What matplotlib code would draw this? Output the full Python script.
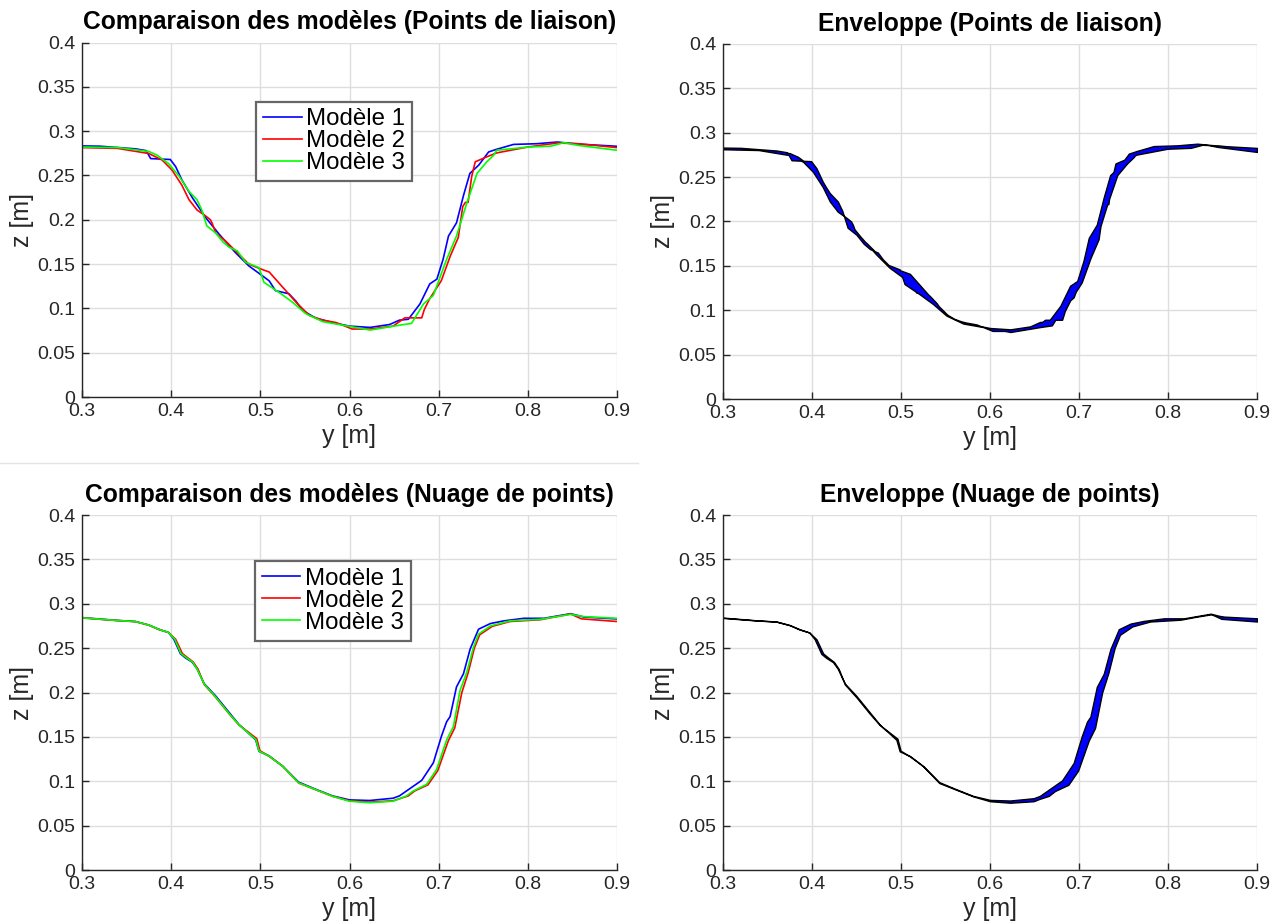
import numpy as np
import matplotlib
matplotlib.use("Agg")
import matplotlib.pyplot as plt
from matplotlib.lines import Line2D

plt.rcParams["font.family"] = ["Liberation Sans", "DejaVu Sans"]

# ---- Profils issus des points de liaison ----
lp_y1 = [0.300, 0.320, 0.340, 0.360, 0.372, 0.377, 0.399, 0.405, 0.412, 0.424, 0.439, 0.454,
         0.472, 0.487, 0.502, 0.510, 0.517, 0.532, 0.540, 0.547, 0.562, 0.585, 0.600, 0.623,
         0.645, 0.656, 0.666, 0.679, 0.690, 0.698, 0.705, 0.711, 0.720, 0.728, 0.735, 0.745,
         0.756, 0.765, 0.784, 0.810, 0.833, 0.844, 0.863, 0.900]
lp_z1 = [0.2833, 0.2830, 0.2815, 0.2800, 0.2780, 0.2690, 0.2680, 0.2600, 0.2450, 0.2245, 0.2020, 0.1835,
         0.1630, 0.1480, 0.1370, 0.1310, 0.1200, 0.1165, 0.1080, 0.0980, 0.0890, 0.0830, 0.0800, 0.0785,
         0.0818, 0.0867, 0.0877, 0.1050, 0.1276, 0.1330, 0.1555, 0.1816, 0.1965, 0.2280, 0.2523, 0.2617,
         0.2765, 0.2795, 0.2850, 0.2858, 0.2877, 0.2866, 0.2850, 0.2829]

lp_y2 = [0.300, 0.340, 0.375, 0.390, 0.401, 0.412, 0.420, 0.429, 0.439, 0.444, 0.446, 0.450,
         0.461, 0.476, 0.487, 0.4985, 0.510, 0.525, 0.540, 0.555, 0.570, 0.585, 0.603, 0.623,
         0.649, 0.662, 0.681, 0.684, 0.690, 0.703, 0.713, 0.722, 0.727, 0.730, 0.733, 0.737,
         0.741, 0.754, 0.765, 0.800, 0.833, 0.856, 0.900]
lp_z2 = [0.2814, 0.2805, 0.2747, 0.2673, 0.2560, 0.2390, 0.2226, 0.2110, 0.2040, 0.2000, 0.1960, 0.1850,
         0.1760, 0.1610, 0.1500, 0.1452, 0.1410, 0.1240, 0.1070, 0.0920, 0.0867, 0.0840, 0.0767, 0.0767,
         0.0800, 0.0893, 0.0893, 0.0990, 0.1110, 0.1313, 0.1590, 0.1800, 0.2150, 0.2196, 0.2196, 0.2486,
         0.2654, 0.2710, 0.2754, 0.2821, 0.2866, 0.2858, 0.2814]

lp_y3 = [0.300, 0.340, 0.375, 0.384, 0.397, 0.409, 0.420, 0.429, 0.434, 0.440, 0.450, 0.458,
         0.465, 0.474, 0.4835, 0.4985, 0.504, 0.521, 0.536, 0.551, 0.570, 0.600, 0.623, 0.656,
         0.6695, 0.683, 0.694, 0.709, 0.720, 0.7316, 0.743, 0.754, 0.7617, 0.765, 0.800, 0.8256,
         0.8406, 0.856, 0.900]
lp_z3 = [0.2820, 0.2815, 0.2770, 0.2730, 0.2635, 0.2490, 0.2320, 0.2225, 0.2120, 0.1930, 0.1850, 0.1750,
         0.1690, 0.1650, 0.1520, 0.1460, 0.1295, 0.1180, 0.1070, 0.0940, 0.0850, 0.0797, 0.0755, 0.0810,
         0.0830, 0.1050, 0.1146, 0.1555, 0.1816, 0.2190, 0.2523, 0.2654, 0.2728, 0.2784, 0.2820, 0.2830,
         0.2870, 0.2840, 0.2784]

# ---- Profils issus du nuage de points ----
np_y1 = [0.300, 0.337, 0.360, 0.375, 0.386, 0.397, 0.403, 0.4105, 0.416, 0.4236, 0.429, 0.437,
         0.450, 0.465, 0.476, 0.4948, 0.4985, 0.510, 0.525, 0.543, 0.562, 0.581, 0.600, 0.6226,
         0.649, 0.656, 0.6677, 0.681, 0.694, 0.703, 0.709, 0.7128, 0.720, 0.7278, 0.7353, 0.7447,
         0.758, 0.773, 0.7955, 0.818, 0.848, 0.863, 0.900]
np_z1 = [0.2844, 0.2814, 0.2800, 0.2760, 0.2713, 0.2676, 0.2600, 0.2435, 0.2390, 0.2342, 0.2267, 0.2100,
         0.1960, 0.1775, 0.1640, 0.1467, 0.1337, 0.1285, 0.1170, 0.0990, 0.0910, 0.0835, 0.0790, 0.0783,
         0.0809, 0.0835, 0.0917, 0.1010, 0.1207, 0.1504, 0.1672, 0.1728, 0.2063, 0.2211, 0.2490, 0.2713,
         0.2777, 0.2807, 0.2836, 0.2836, 0.2888, 0.2850, 0.2829]

np_y2 = [0.300, 0.337, 0.360, 0.375, 0.386, 0.397, 0.405, 0.4125, 0.418, 0.4246, 0.430, 0.437,
         0.450, 0.465, 0.476, 0.4960, 0.4995, 0.510, 0.525, 0.543, 0.562, 0.581, 0.600, 0.6226,
         0.649, 0.666, 0.673, 0.688, 0.699, 0.711, 0.718, 0.726, 0.733, 0.740, 0.746, 0.760,
         0.780, 0.814, 0.848, 0.860, 0.900]
np_z2 = [0.2840, 0.2812, 0.2798, 0.2758, 0.2710, 0.2676, 0.2600, 0.2440, 0.2395, 0.2345, 0.2265, 0.2090,
         0.1945, 0.1760, 0.1635, 0.1480, 0.1345, 0.1280, 0.1170, 0.0980, 0.0905, 0.0830, 0.0780, 0.0765,
         0.0780, 0.0835, 0.0890, 0.0960, 0.1120, 0.1460, 0.1600, 0.2000, 0.2220, 0.2500, 0.2650, 0.2745,
         0.2800, 0.2820, 0.2885, 0.2830, 0.2800]

np_y3 = [0.300, 0.337, 0.360, 0.375, 0.386, 0.397, 0.404, 0.4110, 0.417, 0.4240, 0.429, 0.437,
         0.450, 0.465, 0.476, 0.4950, 0.4985, 0.510, 0.525, 0.543, 0.562, 0.581, 0.600, 0.6226,
         0.649, 0.664, 0.6714, 0.6865, 0.6977, 0.709, 0.7165, 0.724, 0.7316, 0.739, 0.7447, 0.758,
         0.780, 0.814, 0.848, 0.863, 0.900]
np_z3 = [0.2842, 0.2813, 0.2799, 0.2759, 0.2712, 0.2676, 0.2600, 0.2438, 0.2392, 0.2343, 0.2266, 0.2095,
         0.1948, 0.1762, 0.1636, 0.1470, 0.1340, 0.1282, 0.1168, 0.0982, 0.0906, 0.0830, 0.0775, 0.0758,
         0.0775, 0.0835, 0.0890, 0.0965, 0.1133, 0.1467, 0.1616, 0.2025, 0.2230, 0.2509, 0.2658, 0.2750,
         0.2807, 0.2825, 0.2880, 0.2855, 0.2836]

labels = ["Modèle 1", "Modèle 2", "Modèle 3"]
colors = ["#0000ff", "#ff0000", "#00ff00"]
x_ticks = [0.3, 0.4, 0.5, 0.6, 0.7, 0.8, 0.9]
z_ticks = [0, 0.05, 0.1, 0.15, 0.2, 0.25, 0.3, 0.35, 0.4]
z_ticklabels = ["0", "0.05", "0.1", "0.15", "0.2", "0.25", "0.3", "0.35", "0.4"]
x_ticklabels = ["0.3", "0.4", "0.5", "0.6", "0.7", "0.8", "0.9"]

INK = "#262626"

fig = plt.figure(figsize=(12.83, 9.22), dpi=100)
W, H = 1283, 922


def axes_px(left, top, right, bottom):
    return fig.add_axes([left / W, 1 - bottom / H, (right - left) / W, (bottom - top) / H])


def style(ax, title):
    ax.set_xlim(0.3, 0.9)
    ax.set_ylim(0, 0.4)
    ax.set_xticks(x_ticks)
    ax.set_xticklabels(x_ticklabels)
    ax.set_yticks(z_ticks)
    ax.set_yticklabels(z_ticklabels)
    ax.grid(True, color="#dedede", linewidth=1.0)
    ax.set_axisbelow(True)
    for s in ("top", "right"):
        ax.spines[s].set_visible(False)
    for s in ("left", "bottom"):
        ax.spines[s].set_color(INK)
        ax.spines[s].set_linewidth(1.0)
    ax.tick_params(direction="in", length=5, width=1.0, colors=INK, labelsize=14)
    ax.tick_params(axis="x", pad=4)
    ax.tick_params(axis="y", pad=5)
    ax.set_title(title, fontsize=17.7, fontweight="bold", pad=9.5, color="black")
    ax.set_xlabel("y [m]", fontsize=18, color=INK, labelpad=3.5)
    ax.set_ylabel("z [m]", fontsize=18, color=INK, labelpad=2)


def compare(ax, ys, zs, title, legend_anchor):
    style(ax, title)
    for y, z, c, lab in zip(ys, zs, colors, labels):
        ax.plot(y, z, color=c, linewidth=1.2, label=lab)
    leg = ax.legend(loc="upper left", bbox_to_anchor=legend_anchor, fontsize=17.3,
                    frameon=True, fancybox=False, edgecolor="#666666", framealpha=1,
                    handlelength=1.6, handletextpad=0.2, labelspacing=0.0,
                    borderpad=0.28, borderaxespad=0)
    leg.get_frame().set_linewidth(1.6)
    for t in leg.get_texts():
        t.set_color("black")


def envelope(ax, ys, zs, title):
    style(ax, title)
    grid = np.linspace(0.3, 0.9, 2401)
    stack = np.vstack([np.interp(grid, y, z) for y, z in zip(ys, zs)])
    ax.fill_between(grid, stack.min(axis=0), stack.max(axis=0),
                    facecolor="#0000ff", edgecolor="black", linewidth=1.0)


ax1 = axes_px(82, 42.5, 617, 397)
ax2 = axes_px(723, 44, 1257, 399)
ax3 = axes_px(82, 515, 617, 870)
ax4 = axes_px(723, 515, 1257, 870)

compare(ax1, [lp_y1, lp_y2, lp_y3], [lp_z1, lp_z2, lp_z3],
        "Comparaison des modèles (Points de liaison)", (0.326, 0.833))
envelope(ax2, [lp_y1, lp_y2, lp_y3], [lp_z1, lp_z2, lp_z3], "Enveloppe (Points de liaison)")
compare(ax3, [np_y1, np_y2, np_y3], [np_z1, np_z2, np_z3],
        "Comparaison des modèles (Nuage de points)", (0.323, 0.87))
envelope(ax4, [np_y1, np_y2, np_y3], [np_z1, np_z2, np_z3], "Enveloppe (Nuage de points)")

# thin separator below the upper-left panel
fig.add_artist(Line2D([0, 638 / W], [1 - 463 / H, 1 - 463 / H], color="#e4e4e4", linewidth=1.0))

fig.savefig("out.png", dpi=100, facecolor="white")
